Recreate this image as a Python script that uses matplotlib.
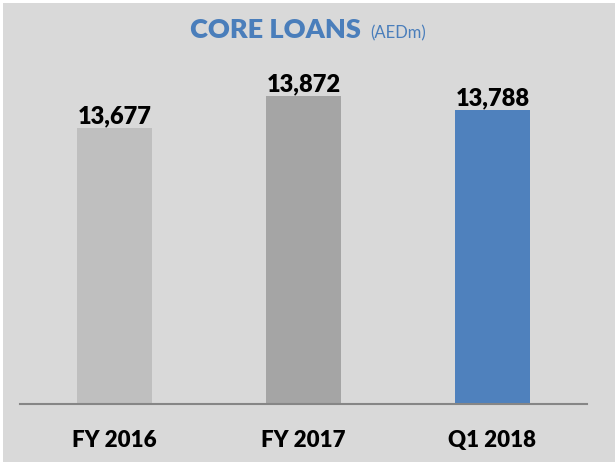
import matplotlib.pyplot as plt
from matplotlib.patches import Rectangle

categories = ['FY 2016', 'FY 2017', 'Q1 2018']
values = [13677, 13872, 13788]
value_labels = ['13,677', '13,872', '13,788']
bar_colors = ['#bfbfbf', '#a5a5a5', '#4f81bd']

plt.rcParams['font.family'] = ['Lato', 'DejaVu Sans']

fig = plt.figure(figsize=(6.15, 4.62), dpi=100)
fig.patch.set_facecolor('white')
# grey chart area (a thin white edge shows at the top and left)
fig.patches.append(Rectangle((3 / 615, 0), 1, 1 - 3 / 462, transform=fig.transFigure,
                             facecolor='#d9d9d9', edgecolor='none', zorder=-1))

ax = fig.add_axes([20 / 615, 1 - 404 / 462, 567 / 615, 344 / 462])
ax.set_facecolor('none')
ax.set_zorder(2)

x = range(len(categories))
ax.bar(x, [v - 12000 for v in values], bottom=12000, width=0.4, color=bar_colors)
ax.set_xlim(-0.5, 2.5)
ax.set_ylim(12000, 14090)

for i, v in enumerate(values):
    ax.annotate(value_labels[i], xy=(i, v), xytext=(0, 3), textcoords='offset points',
                ha='center', va='baseline', fontsize=17, fontweight='heavy', color='black')

for s in ['top', 'right', 'left']:
    ax.spines[s].set_visible(False)
ax.spines['bottom'].set_color('#868686')
ax.spines['bottom'].set_linewidth(1.5)
ax.set_yticks([])
ax.set_xticks(list(x))
ax.set_xticklabels(categories, fontsize=16, fontweight='heavy')
ax.tick_params(axis='x', length=0, pad=19)

fig.text(361 / 615, 1 - 38 / 462, 'CORE LOANS', ha='right', va='baseline',
         fontsize=19.5, fontweight='heavy', color='#4a7ebb', zorder=3)
fig.text(370 / 615, 1 - 38 / 462, '(AEDm)', ha='left', va='baseline',
         fontsize=12, color='#4a7ebb', zorder=3)

plt.savefig('out.png', dpi=100, facecolor=fig.get_facecolor())
